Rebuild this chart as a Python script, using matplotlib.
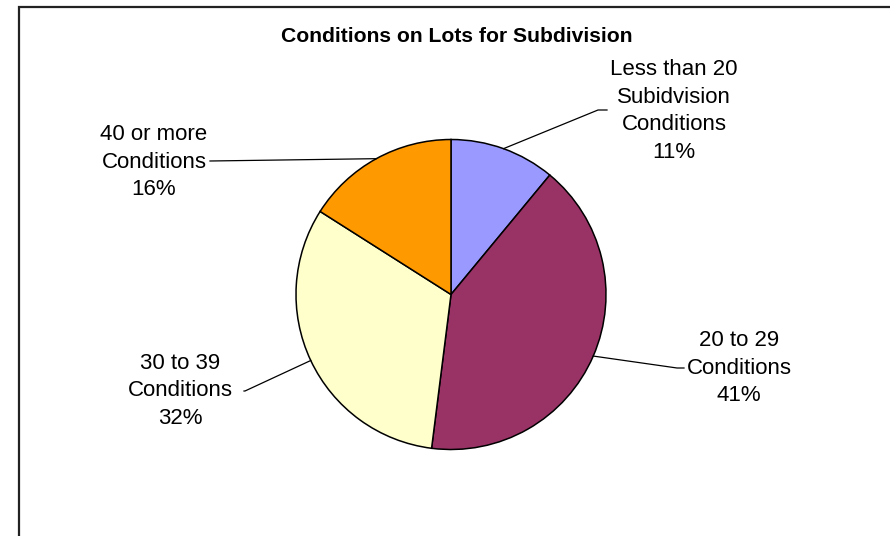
import numpy as np
import matplotlib
matplotlib.use("Agg")
import matplotlib.pyplot as plt

plt.rcParams["font.family"] = ["Liberation Sans", "DejaVu Sans"]

W, H = 890, 536

categories = ["Less than 20\nSubidvision\nConditions", "20 to 29\nConditions",
              "30 to 39\nConditions", "40 or more\nConditions"]
shares = [11, 41, 32, 16]
colors = ["#9999FF", "#993366", "#FFFFCC", "#FF9900"]

# label block centres and leader elbows, in pixels from the top-left corner
label_pos = [(674, 111), (739, 368), (180, 391), (154, 162)]
elbows = [(598, 110), (677, 368), (245, 391), (210, 161)]
ends = [(607, 110), (684, 368), (244, 391), (210, 161)]

fig = plt.figure(figsize=(W / 100, H / 100), dpi=100)
ax = fig.add_axes([0, 0, 1, 1])
ax.axis("off")

cx, cy, r = 451, H - 294.5, 155
wedges, _ = ax.pie(shares, colors=colors, startangle=90, counterclock=False,
                   center=(cx, cy), radius=r,
                   wedgeprops=dict(edgecolor="black", linewidth=1.1))
ax.set_xlim(0, W)
ax.set_ylim(0, H)
ax.set_aspect("equal")

for w, cat, val, (lx, ly), (ex, ey), (tx, ty) in zip(
        wedges, categories, shares, label_pos, elbows, ends):
    mid = np.deg2rad((w.theta1 + w.theta2) / 2)
    px, py = cx + r * np.cos(mid), cy + r * np.sin(mid)
    ax.plot([px, ex, tx], [py, H - ey, H - ty], color="black", lw=0.9)
    ax.text(lx, H - ly, f"{cat}\n{val}%", ha="center", va="center",
            fontsize=16, linespacing=1.43)

ax.text(457, H - 37, "Conditions on Lots for Subdivision", ha="center",
        va="center", fontsize=15.2, fontweight="bold")

# chart area border (left and top edges)
ax.plot([19, 19, W], [0, H - 6.5, H - 6.5], color="#222222", lw=1.6,
        solid_joinstyle="miter")

fig.savefig("out.png", dpi=100)
